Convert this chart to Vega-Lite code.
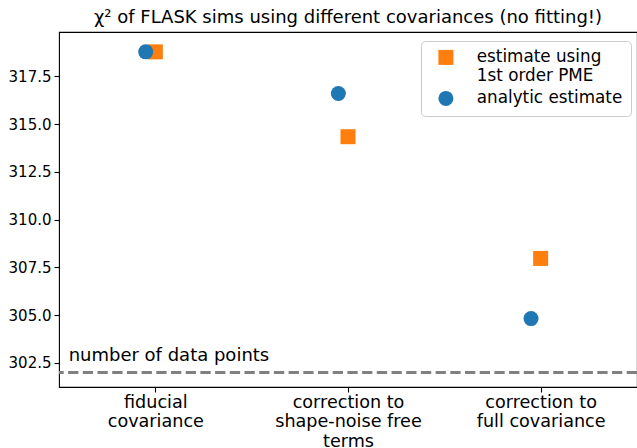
{
  "$schema": "https://vega.github.io/schema/vega-lite/v6.json",
  "width": 578,
  "height": 355,
  "autosize": "none",
  "padding": {"left": 59, "top": 32, "right": 0, "bottom": 61},
  "title": {
    "text": "χ² of FLASK sims using different covariances (no fitting!)",
    "fontSize": 18,
    "font": "DejaVu Sans",
    "fontWeight": "normal",
    "color": "black",
    "offset": 5
  },
  "config": {
    "font": "DejaVu Sans",
    "view": {"stroke": "black", "strokeWidth": 1.1},
    "axis": {
      "grid": false,
      "domain": false,
      "tickColor": "black",
      "tickWidth": 1.1,
      "tickSize": 5,
      "labelColor": "black",
      "labelFont": "DejaVu Sans",
      "title": null
    },
    "legend": {
      "orient": "none",
      "legendX": 362,
      "legendY": 9,
      "strokeColor": "#cccccc",
      "fillColor": "white",
      "cornerRadius": 4,
      "padding": 8,
      "symbolOffset": 8.5,
      "labelOffset": 22.5,
      "labelFontSize": 16.8,
      "labelFont": "DejaVu Sans",
      "labelColor": "black",
      "labelLimit": 400,
      "labelBaseline": "middle",
      "symbolSize": 225,
      "symbolStrokeWidth": 0,
      "rowPadding": 5
    }
  },
  "layer": [
    {
      "data": {"values": [{"level": 302}]},
      "mark": {"type": "rule", "color": "#808080", "strokeWidth": 2.8, "strokeDash": [10.3, 4.4]},
      "encoding": {
        "y": {"field": "level", "type": "quantitative"}
      }
    },
    {
      "data": {"values": [{"px": -0.45, "py": 302.58, "note": "number of data points"}]},
      "mark": {"type": "text", "align": "left", "baseline": "alphabetic", "fontSize": 18, "color": "black", "font": "DejaVu Sans"},
      "encoding": {
        "x": {"field": "px", "type": "quantitative"},
        "y": {"field": "py", "type": "quantitative"},
        "text": {"field": "note"}
      }
    },
    {
      "data": {
        "values": [
          {"pos": 0, "chi2": 318.78, "method": "estimate using 1st order PME"},
          {"pos": 1, "chi2": 314.34, "method": "estimate using 1st order PME"},
          {"pos": 2, "chi2": 307.97, "method": "estimate using 1st order PME"},
          {"pos": -0.05, "chi2": 318.78, "method": "analytic estimate"},
          {"pos": 0.95, "chi2": 316.6, "method": "analytic estimate"},
          {"pos": 1.95, "chi2": 304.82, "method": "analytic estimate"}
        ]
      },
      "mark": {"type": "point", "filled": true, "opacity": 1, "size": 225, "strokeWidth": 0},
      "encoding": {
        "x": {
          "field": "pos",
          "type": "quantitative",
          "scale": {"domain": [-0.5, 2.5], "nice": false, "zero": false},
          "axis": {
            "values": [0, 1, 2],
            "labelFontSize": 17.6,
            "labelLineHeight": 19.7,
            "labelPadding": 1,
            "labelExpr": "datum.value == 0 ? ['fiducial', 'covariance'] : datum.value == 1 ? ['correction to', 'shape-noise free', 'terms'] : ['correction to', 'full covariance']"
          }
        },
        "y": {
          "field": "chi2",
          "type": "quantitative",
          "scale": {"domain": [301.24, 319.82], "nice": false, "zero": false},
          "axis": {
            "values": [302.5, 305, 307.5, 310, 312.5, 315, 317.5],
            "format": ".1f",
            "labelFontSize": 15,
            "labelPadding": 3
          }
        },
        "color": {
          "field": "method",
          "type": "nominal",
          "scale": {"domain": ["estimate using 1st order PME", "analytic estimate"], "range": ["#ff7f0e", "#1f77b4"]},
          "legend": {
            "title": null,
            "labelExpr": "datum.label == 'estimate using 1st order PME' ? ['estimate using', '1st order PME'] : datum.label"
          }
        },
        "shape": {
          "field": "method",
          "type": "nominal",
          "scale": {"domain": ["estimate using 1st order PME", "analytic estimate"], "range": ["square", "circle"]},
          "legend": {
            "title": null,
            "labelExpr": "datum.label == 'estimate using 1st order PME' ? ['estimate using', '1st order PME'] : datum.label"
          }
        }
      }
    }
  ]
}
